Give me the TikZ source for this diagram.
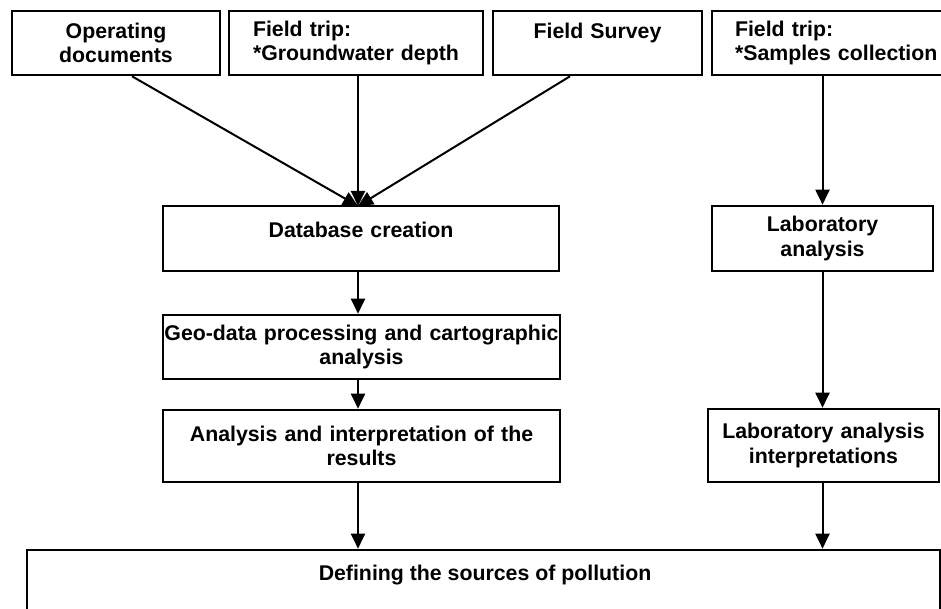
\documentclass[tikz,border=0pt]{standalone}
\usepackage{fontspec}
\setmainfont{Liberation Sans}
\usetikzlibrary{arrows.meta}
\begin{document}
\begin{tikzpicture}[x=1pt,y=-1pt,
  box/.style={draw, line width=2.6pt, inner sep=0pt, align=center, font=\bfseries\fontsize{21.3}{24.5}\selectfont},
  lbox/.style={box, align=left, inner xsep=24pt},
  conn/.style={line width=2pt, -{Triangle[length=15pt,width=14pt]}}]
\useasboundingbox (0,0) rectangle (941,609);

% top row
\node[box, text width=208pt, minimum height=64pt] (op) at (116,43) {Operating\\documents};
\node[lbox, text width=206pt, minimum height=64pt] (gw) at (356,43) {Field trip:\\{}*Groundwater depth};
\node[box, text width=209pt, minimum height=64pt] (fs) at (597.5,43) {Field Survey\\\mbox{}};
\node[lbox, inner xsep=23pt, text width=207pt, minimum height=64pt] (sc) at (838.5,43) {Field trip:\\{}*Samples collection};

% left column
\node[box, text width=396pt, minimum height=65pt] (db) at (361,238.5) {Database creation\\[-8pt]\mbox{}};
\node[box, text width=397pt, minimum height=64pt] (geo) at (361.5,347) {Geo-data processing and cartographic\\analysis};
\node[box, text width=397pt, minimum height=72pt] (an) at (361.5,446) {Analysis and interpretation of the\\results};

% right column
\node[box, text width=221pt, minimum height=65pt] (lab) at (822.5,238.5) {Laboratory\\analysis};
\node[box, text width=231pt, minimum height=73pt] (li) at (823.5,445.5) {Laboratory analysis\\interpretations};

% bottom
\node[box, minimum width=913pt, minimum height=80pt] (def) at (483.5,590) {};
\node[font=\bfseries\fontsize{21.3}{24.5}\selectfont, inner sep=0pt] (deft) at (485,575) {Defining the sources of pollution};

\coordinate (hub) at (358,206);

% connectors
\draw[conn] ([xshift=16pt]op.south) -- (hub);
\draw[conn] (gw.south -| hub) -- (hub);
\draw[conn] ([xshift=-27.5pt]fs.south) -- (hub);
\draw[conn] (db.south -| hub) -- (geo.north -| hub);
\draw[conn] (geo.south -| hub) -- (an.north -| hub);
\draw[conn] (an.south -| hub) -- (def.north -| hub);
\draw[conn] (lab.north |- sc.south) -- (lab.north);
\draw[conn] (lab.south) -- (li.north -| lab.south);
\draw[conn] (li.south -| lab.south) -- (def.north -| lab.south);
\end{tikzpicture}
\end{document}
